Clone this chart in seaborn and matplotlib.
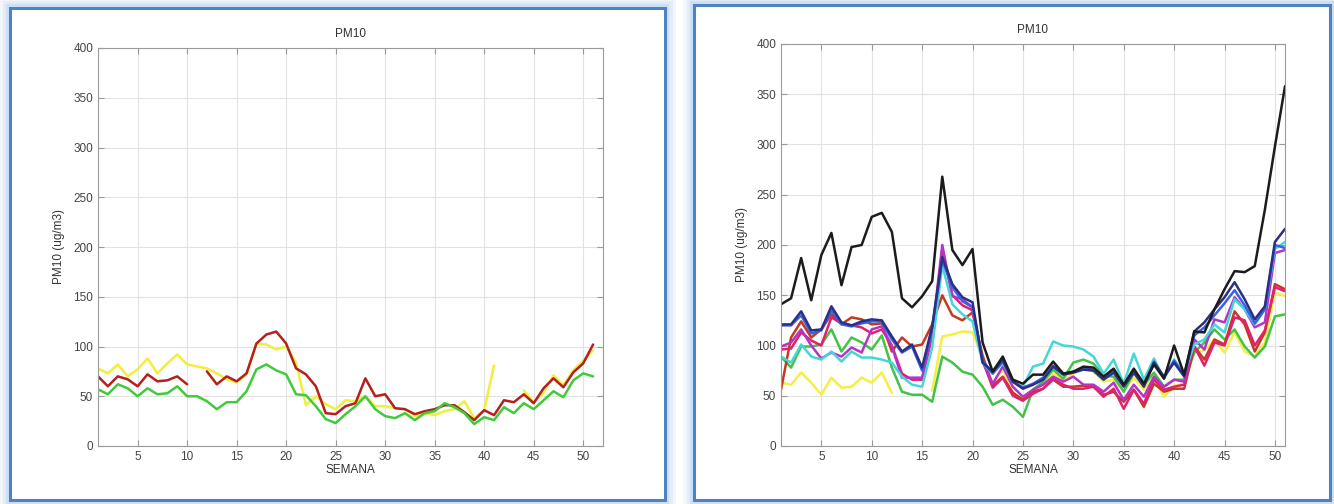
import numpy as np
import pandas as pd
import seaborn as sns
import matplotlib.pyplot as plt
from matplotlib.patches import Rectangle

nan = np.nan
weeks = list(range(1, 52))

# left panel (3 stations)
left_yellow = [78, 73, 82, 70, 77, 88, 73, 83, 92, 82, 80, 78, 73, 67, 64, 72, 103, 102, 97, 100,
               84, 41, 50, 42, 37, 46, 45, 50, 40, 40, 38, 37, 30, 33, 31, 35, 37, 45, 28, 36,
               81, nan, nan, 56, 44, 54, 71, 61, 76, 86, 96]
left_red = [70, 60, 70, 67, 60, 72, 65, 66, 70, 62, nan, 75, 62, 70, 65, 73, 103, 112, 115, 103,
            78, 72, 60, 33, 32, 40, 43, 68, 50, 52, 38, 37, 32, 35, 37, 41, 41, 34, 26, 36,
            31, 46, 44, 52, 43, 58, 68, 59, 74, 83, 102]
left_green = [57, 52, 62, 58, 50, 58, 52, 53, 60, 50, 50, 45, 37, 44, 44, 55, 77, 82, 76, 72,
              52, 51, 40, 27, 23, 32, 40, 50, 37, 30, 28, 33, 26, 33, 35, 43, 39, 33, 22, 29,
              26, 39, 33, 43, 37, 46, 55, 49, 66, 73, 70]

# right panel (9 stations)
right_yellow = [63, 61, 73, 63, 51, 68, 58, 59, 68, 63, 73, 53, nan, nan, nan, 55, 109, 111, 114, 113,
                88, 62, 76, 53, 46, 56, 62, 72, 66, 72, 78, 74, 64, 66, 55, 68, 56, 70, 49, 60,
                62, 93, 95, 106, 93, 113, 94, 89, 103, 153, 149]
right_green = [89, 78, 99, 99, 101, 116, 94, 108, 103, 96, 110, 78, 54, 51, 51, 44, 89, 83, 74, 71,
               59, 41, 46, 39, 29, 56, 64, 76, 67, 83, 86, 82, 70, 69, 54, 73, 61, 73, 59, 66,
               66, 93, 103, 116, 106, 116, 99, 88, 99, 129, 131]
right_brown = [56, 108, 124, 108, 116, 131, 121, 128, 126, 121, 122, 94, 108, 99, 101, 121, 150, 130, 125, 133,
               90, 60, 69, 53, 46, 54, 57, 66, 59, 59, 60, 59, 51, 54, 44, 56, 39, 62, 54, 57,
               57, 99, 86, 106, 101, 134, 121, 94, 113, 161, 156]
right_crimson = [96, 97, 113, 105, 100, 128, 122, 120, 118, 112, 116, 100, 72, 66, 66, 110, 195, 150, 140, 135,
                 85, 58, 68, 50, 45, 52, 57, 67, 61, 57, 57, 59, 49, 57, 37, 56, 42, 66, 56, 59,
                 61, 99, 80, 103, 100, 128, 125, 100, 115, 158, 154]
right_magenta = [99, 103, 116, 100, 87, 93, 89, 98, 93, 116, 119, 99, 68, 68, 68, 113, 200, 149, 146, 138,
                 84, 62, 79, 59, 49, 56, 61, 69, 64, 69, 61, 61, 54, 63, 46, 61, 49, 69, 59, 66,
                 64, 106, 96, 126, 123, 148, 136, 118, 123, 192, 195]
right_cyan = [89, 83, 101, 89, 86, 94, 84, 94, 88, 88, 86, 83, 69, 61, 59, 98, 180, 141, 131, 124,
              83, 72, 83, 64, 59, 79, 82, 104, 100, 99, 96, 89, 72, 86, 62, 92, 66, 87, 67, 86,
              72, 101, 106, 121, 113, 146, 136, 121, 136, 196, 203]
right_blue = [120, 120, 130, 112, 115, 135, 121, 119, 122, 124, 124, 106, 93, 99, 75, 118, 185, 158, 144, 138,
              85, 72, 84, 64, 58, 62, 68, 80, 72, 74, 77, 76, 68, 75, 60, 75, 61, 84, 68, 85,
              70, 110, 118, 130, 142, 155, 140, 122, 136, 200, 197]
right_navy = [121, 121, 134, 115, 116, 139, 123, 120, 124, 126, 125, 109, 94, 101, 78, 119, 188, 161, 148, 143,
              83, 74, 86, 64, 57, 61, 66, 79, 71, 73, 76, 75, 66, 73, 59, 73, 59, 83, 69, 83,
              69, 114, 123, 136, 148, 163, 146, 126, 139, 203, 216]
right_black = [141, 147, 187, 145, 190, 212, 160, 198, 200, 228, 232, 213, 147, 138, 149, 164, 268, 195, 180, 196,
               103, 74, 89, 66, 62, 71, 71, 84, 72, 74, 79, 78, 69, 77, 61, 77, 62, 81, 67, 100,
               71, 114, 113, 136, 156, 174, 173, 179, 235, 298, 358]

left_series = [(left_yellow, "#f2ee3a"), (left_red, "#b3201e"), (left_green, "#3fcb3a")]
right_series = [(right_yellow, "#f3ef45"), (right_green, "#43c247"), (right_brown, "#c23a22"),
                (right_crimson, "#e0226e"), (right_magenta, "#b633c8"), (right_cyan, "#45d6d8"),
                (right_blue, "#3a62e0"), (right_navy, "#2b2f86"), (right_black, "#1c1c1c")]

sns.set_style("whitegrid")
plt.rcParams['font.family'] = ['Liberation Sans', 'DejaVu Sans']

fig = plt.figure(figsize=(13.34, 5.04), dpi=100)
W, H = 1334, 504


def frac(x0, y0, x1, y1):
    # pixel box (top-left origin) -> figure fraction
    return [x0 / W, 1 - y1 / H, (x1 - x0) / W, (y1 - y0) / H]


# blue picture frames, glow only on the outside
for fx0, fy0, fx1, fy1 in [(10, 8, 665, 500), (694, 5, 1330, 500)]:
    b = frac(fx0, fy0, fx1, fy1)
    for lw, a in [(16, 0.12), (11, 0.18), (6, 0.3)]:
        fig.patches.append(Rectangle((b[0], b[1]), b[2], b[3], transform=fig.transFigure,
                                     fill=False, ec="#9dc4ee", lw=lw, alpha=a, zorder=-3))
    fig.patches.append(Rectangle((b[0], b[1]), b[2], b[3], transform=fig.transFigure,
                                 fc="white", ec="none", zorder=-2))
    fig.patches.append(Rectangle((b[0], b[1]), b[2], b[3], transform=fig.transFigure,
                                 fill=False, ec="#4f82c4", lw=2.2, zorder=-1))

ax1 = fig.add_axes(frac(98, 48, 603, 446))
ax2 = fig.add_axes(frac(781, 44, 1285, 446))


def draw(ax, series, xmax):
    for vals, col in series:
        df = pd.DataFrame({"SEMANA": weeks, "PM10": vals})
        ok = df["PM10"].notna()
        seg = (~ok).cumsum()
        for _, part in df[ok].groupby(seg[ok]):
            if len(part) > 1:
                sns.lineplot(data=part, x="SEMANA", y="PM10", color=col, lw=1.8,
                             estimator=None, sort=False, ax=ax)
    ax.set_xlim(1, xmax)
    ax.set_ylim(0, 400)
    ax.set_xticks(range(5, 51, 5))
    ax.set_yticks(range(0, 401, 50))
    ax.grid(True, color="#e2e2e2", lw=0.8)
    for s in ax.spines.values():
        s.set_color("#9a9a9a")
        s.set_linewidth(0.8)
    ax.tick_params(direction="in", length=4, color="#9a9a9a", labelsize=8.5,
                   labelcolor="#444444", top=True, right=True, bottom=True, left=True)
    ax.set_title("PM10", fontsize=8.5, color="#333333", pad=8)
    ax.set_xlabel("SEMANA", fontsize=8.5, color="#333333", labelpad=1)
    ax.set_ylabel("PM10 (ug/m3)", fontsize=8.5, color="#333333", labelpad=6)


draw(ax1, left_series, 52)
draw(ax2, right_series, 51)

fig.savefig("out.png", dpi=100, facecolor="white")
